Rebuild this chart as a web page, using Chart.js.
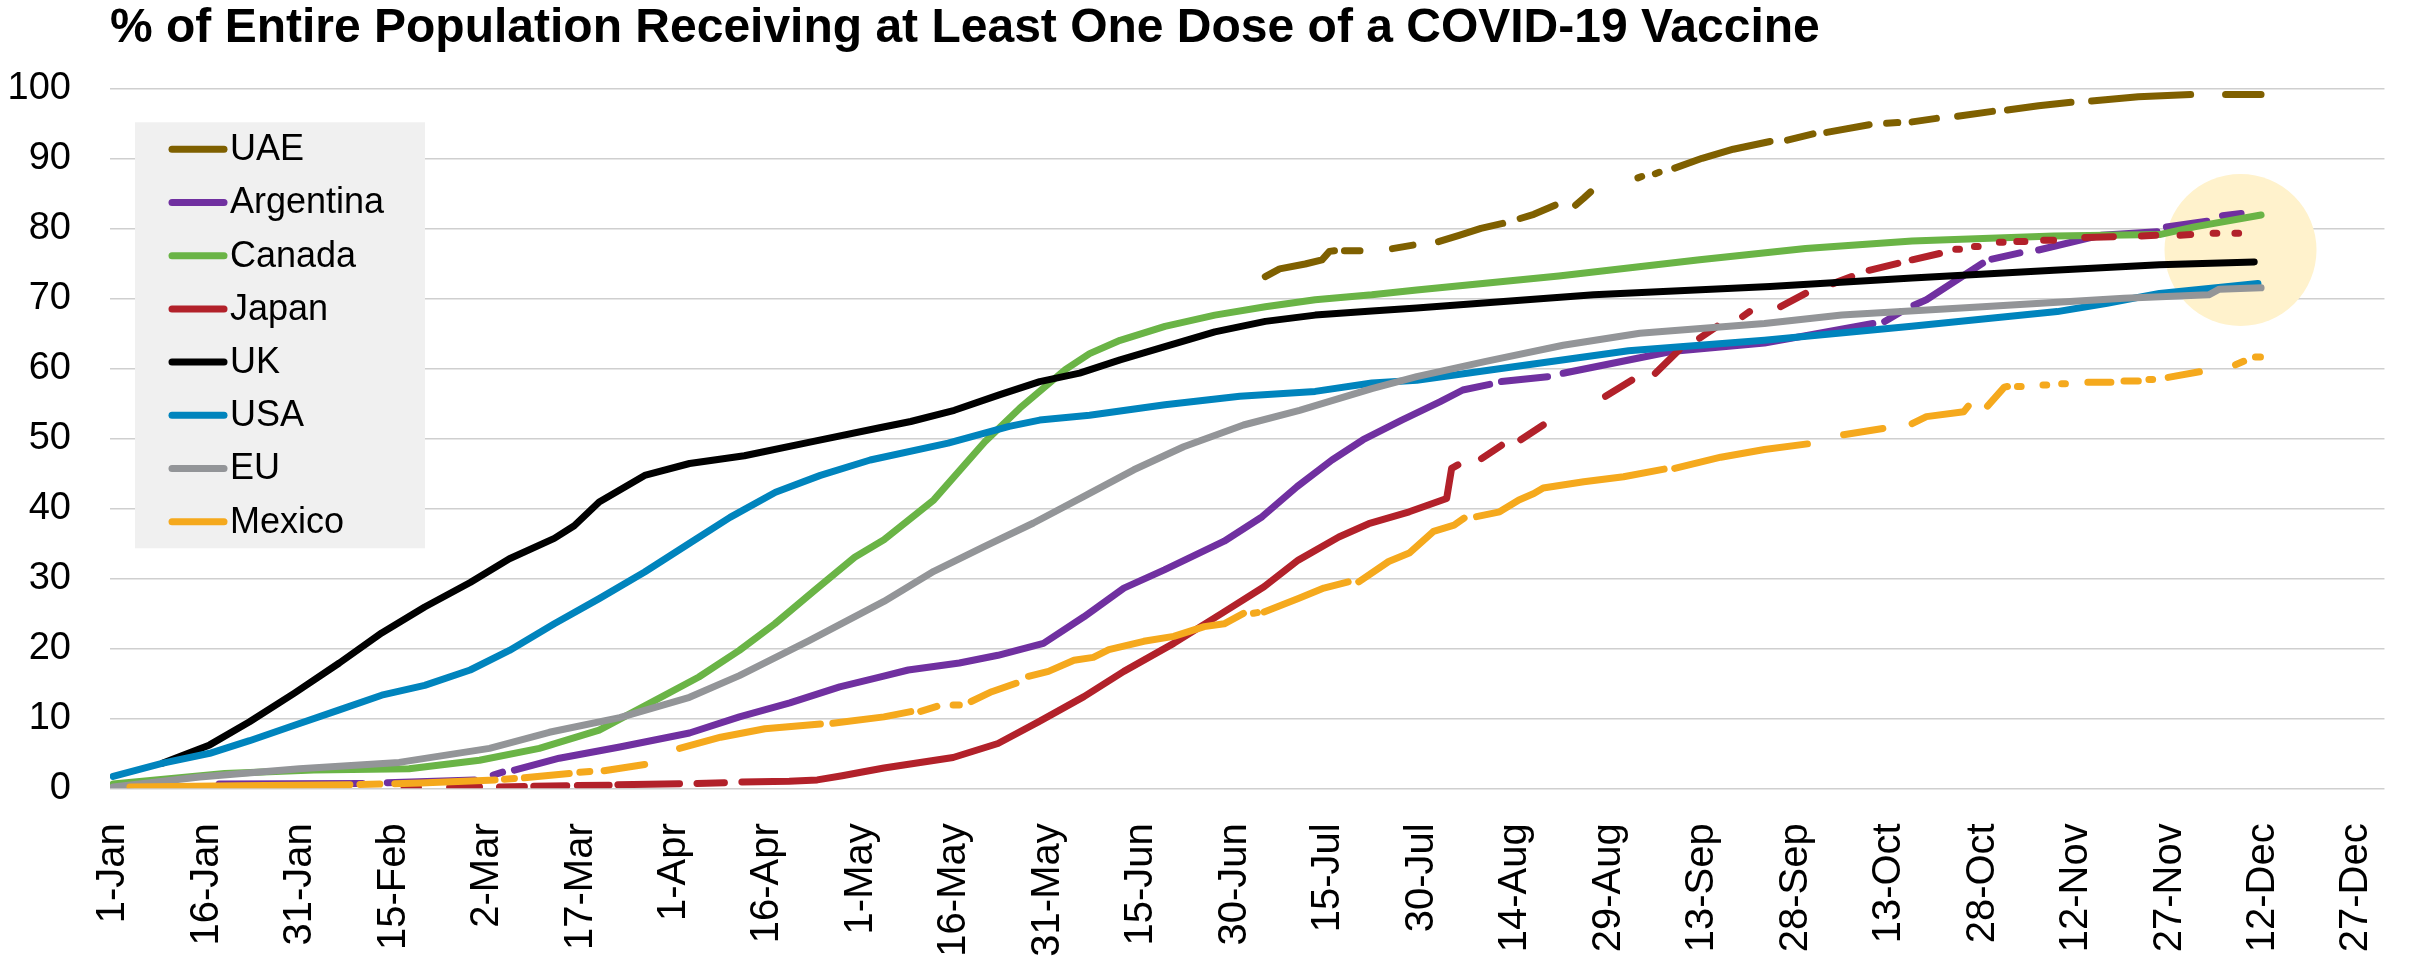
<!DOCTYPE html>
<html>
<head>
<meta charset="utf-8">
<title>% of Entire Population Receiving at Least One Dose of a COVID-19 Vaccine</title>
<script src="https://cdn.jsdelivr.net/npm/chart.js@4.4.1/dist/chart.umd.min.js"></script>
<style>
  html, body { margin: 0; padding: 0; background: #fff; }
  canvas { display: block; }
</style>
</head>
<body>
<canvas id="vaxChart" width="2432" height="959"></canvas>
<script>
// x = day of 2021 (0 = 1-Jan), y = % of population with at least one dose
// null = no value reported, the line breaks there
const uae = [[184.9,73.1],[187.2,74.2],[191.3,74.9],[194,75.5],[195.2,76.7],[196,76.8],null,
  [197.6,76.8],[200.1,76.8],null,[205.3,77.1],[208.6,77.6],null,
  [212.7,78.1],[216,79],[219.5,80],[223,80.7],null,[225.8,81.4],[228,82],[231.4,83.3],null,
  [234.7,83.3],[236,84.3],[237.1,85.2],null,[244.7,87.2],[245.3,87.4],null,[247.5,87.8],[248.1,88],null,
  [250.6,88.6],[255,90],[260,91.3],[265.9,92.4],null,[268.7,92.6],[272.8,93.5],null,
  [275,93.7],[281.8,94.8],null,[284.6,95],[286.4,95.1],null,[288.7,95.2],[292.6,95.7],null,
  [296,96],[301.6,96.7],null,[304,96.9],[309,97.5],[314.2,98],null,
  [317.5,98.2],[325,98.8],[333.4,99.1],null,[339,99.1],[344.7,99.1]];

const argentina = [[17,0.6],[40,0.7],null,[44,0.8],[58,1.2],null,[61,1.9],[62.5,2.3],null,
  [64.4,2.6],[71.6,4.3],[81.3,5.9],[92.5,7.9],[100.5,10.2],[108.6,12.2],[116.6,14.5],[123.5,16],
  [127.6,16.9],[135.8,17.9],[142,19],[149.3,20.7],[155.8,24.5],[162.2,28.6],[168.7,31.2],[178.3,35.3],
  [184.4,38.8],[190,43.1],[195.6,46.9],[200.6,49.8],[206.8,52.6],[212.9,55.2],[216.6,56.9],[220.9,57.7],null,
  [222.8,58.1],[230.2,58.8],null,[232.7,59.3],[250,62.4],[265,63.6],[282.4,66.4],null,
  [284.3,66.7],[287,68.1],null,[289,69],[291,69.8],[300,75],null,[301.5,75.6],[306,76.5],null,
  [309,76.9],[317,78.6],[319,79],[328,79.5],null,[329.5,80.2],[336,81],null,[338.5,81.8],[341.5,82.1]];

const canada = [[0,0.6],[17.9,2.1],[32.2,2.6],[47.5,2.8],[58.8,4],[68.4,5.7],[78,8.3],[86,12.1],
  [94,15.9],[100.5,19.7],[106.2,23.5],[112.6,28.3],[119,33],[123.7,35.5],[131.7,41.2],[139.9,49.5],
  [145.5,54.3],[152.8,59.8],[156.7,62.1],[161.6,64],[168.8,66],[176.8,67.6],[184.9,68.8],[192.9,69.8],
  [202,70.5],[209.2,71.2],[232,73.2],[254.6,75.5],[271.6,77.1],[288.7,78.2],[311.4,78.9],[328.4,79.1],
  [334,80.2],[344.7,81.9]];

const japan = [[46.7,0.1],[49,0.1],null,[54,0.15],[58.8,0.2],null,[62,0.2],[66,0.25],null,
  [67.5,0.3],[72.8,0.35],null,[74.5,0.4],[79.6,0.45],null,[81,0.5],[90.9,0.65],null,
  [93.7,0.7],[98.1,0.8],null,[100.9,0.9],[108.5,1],[113,1.2],[117,1.8],[120,2.3],[123.7,2.9],
  [134.8,4.4],[142,6.4],[148.5,9.5],[155.8,13.1],[162.2,16.7],[170.2,20.7],[178.3,25.2],[184.7,28.8],
  [190.2,32.6],[196.7,35.9],[201.5,37.8],[208,39.5],[214,41.4],[214.8,45.7],[215.8,46.2],null,
  [219.6,47.1],[222.8,49],null,[225.9,49.8],[229.5,51.9],null,[239.5,56],[243.7,58.3],null,
  [247.5,59.3],[251.3,62.6],null,[254.6,64.3],[257.4,66],null,[261.5,67.4],[262.6,68.1],null,
  [267.6,68.8],[271.6,70.7],null,[276,72.1],[279,73.1],null,[281.8,74],[286.4,75],null,
  [288.7,75.5],[293.1,76.4],null,[295.7,77],[296.3,77],null,[298.7,77.4],[299.3,77.4],null,
  [302.7,78],[303.3,78],null,[305.5,78.1],[306.8,78.1],null,[309.8,78.3],[311.4,78.3],null,
  [316.4,78.7],[321,78.8],null,[325.5,78.9],[327.8,79],null,[331.7,79],[333.4,79.1],null,
  [337,79.3],[337.6,79.3],null,[340.5,79.3],[341.1,79.3]];

const uk = [[8,3.6],[15.5,6.2],[21.9,9.5],[29.1,13.6],[36.3,17.9],[43.1,22.2],[50,25.9],[57.3,29.4],
  [63.6,32.8],[70.8,35.7],[74,37.5],[78,40.9],[85.3,44.7],[92.5,46.4],[101.3,47.5],[112.6,49.6],
  [123,51.5],[128,52.4],[135,54],[142.2,56.2],[148.7,58.1],[155.1,59.3],[161.6,61.2],[169.6,63.3],
  [176.8,65.2],[184.9,66.7],[192.9,67.6],[202,68.2],[209.2,68.6],[237.6,70.5],[265.9,71.7],
  [288.7,72.9],[311.4,74],[328.4,74.8],[343.6,75.2]];

const usa = [[0,1.7],[8,3.6],[15.5,5],[21.9,6.8],[29.1,9],[36.3,11.2],[43.1,13.3],[50,14.7],
  [57.3,16.9],[63.6,19.7],[70.8,23.5],[78,27.1],[85.3,30.9],[92.5,35],[99,38.7],[106.3,42.3],
  [113.5,44.7],[121.5,46.9],[134,49.3],[143.8,51.7],[148.7,52.6],[156.7,53.3],[168.8,54.8],[180.8,56],
  [192.9,56.7],[202,57.9],[209.2,58.3],[243.2,62.5],[265,64],[288.6,66],[312,68.1],[320,69.3],
  [328.4,70.7],[344.2,72.1]];

const eu = [[0,0.2],[13.9,1.6],[29.9,2.8],[45.9,3.7],[60.4,5.7],[70,8],[81.3,10.1],[92.5,13],
  [100.5,16.1],[111.7,21.1],[123.7,26.7],[131.7,31],[139.7,34.5],[147.7,37.9],[155.8,41.7],[163.8,45.5],
  [171.8,48.8],[181.4,51.9],[190.4,54],[202,57.1],[209.2,58.8],[220.3,61],[232.7,63.3],[245,65],
  [265,66.4],[277.4,67.6],[300,68.8],[322.7,70],[336.3,70.5],[338,71.3],[344.7,71.5]];

const mexico = [[2.7,0.2],[20,0.35],[38,0.5],null,[39.6,0.55],[42.8,0.6],null,[45.2,0.65],[49.3,0.75],
  [61.3,1.2],null,[62.8,1.3],[64.4,1.4],null,[66,1.5],[73.2,2.1],null,[74.9,2.3],[76.5,2.4],null,
  [78.8,2.5],[85.3,3.4],null,[90.9,5.7],[97.5,7.3],[104.6,8.5],[113.5,9.2],null,[115.5,9.3],
  [123.7,10.2],[128,10.95],null,[129.6,11],[132.2,11.7],null,[134.8,11.9],[135.8,11.9],null,
  [137.7,12.4],[141,13.8],[144.9,15],null,[146.9,16],[150.1,16.7],[154.2,18.3],[157.3,18.7],
  [159.8,19.8],[165.4,21],[170.2,21.7],[175.1,23.1],[178.3,23.5],[181.4,25],null,[183,25],[183.6,25.1],null,
  [184.7,25.2],[190.2,27.1],[194.3,28.6],[198.2,29.5],null,[199.9,29.5],[204.7,32.4],[208,33.6],
  [211.9,36.7],[215.2,37.6],[216.8,38.6],null,[218.8,38.8],[222.5,39.5],[225.6,41.2],[228,42.1],
  [229.5,42.9],[236,43.8],[242.4,44.5],[248.9,45.6],null,[250.6,45.7],[258,47.3],[265,48.4],[271.9,49.2],null,
  [277.7,50.5],[284,51.4],null,[288.7,52.1],[291,53.1],[297,53.8],[297.7,54.6],null,
  [300.8,54.6],[303.5,57.3],[304,57.4],null,[305.6,57.4],[306.2,57.4],null,[309.7,57.6],[310.3,57.6],null,
  [312.7,57.8],[313.3,57.8],null,[316.9,58],[320.6,58],null,[322.7,58.2],[325,58.2],null,
  [326.7,58.4],[327.3,58.4],null,[329.8,58.7],[334.8,59.5],null,[340.6,60.5],[341.9,61],null,
  [343.8,61.6],[344.6,61.6]];

const countries = ["UAE", "Argentina", "Canada", "Japan", "UK", "USA", "EU", "Mexico"];
const seriesList = [uae, argentina, canada, japan, uk, usa, eu, mexico];
const colors = ["#7f6000", "#7030a0", "#6ab446", "#b2212a", "#000000", "#0084bd", "#939598", "#f5a91d"];

const dayLabels = ["1-Jan", "16-Jan", "31-Jan", "15-Feb", "2-Mar", "17-Mar", "1-Apr", "16-Apr",
  "1-May", "16-May", "31-May", "15-Jun", "30-Jun", "15-Jul", "30-Jul", "14-Aug", "29-Aug",
  "13-Sep", "28-Sep", "13-Oct", "28-Oct", "12-Nov", "27-Nov", "12-Dec", "27-Dec"];
const labelStep = 15;
const yTicksMax = 100;
const yTicksStep = 10;

// highlighted latest readings
const highlightDay = 341.4;
const highlightValue = 76.9;

const FONT = "'Liberation Sans', Arial, Helvetica, sans-serif";
const LINE_W = 7;

function toPoints(rows) {
  let lastX = 0;
  return rows.map(r => {
    if (r === null) return { x: lastX + 0.01, y: null };
    lastX = r[0];
    return { x: r[0], y: r[1] };
  });
}

const highlightPlugin = {
  id: "highlight",
  beforeDatasetsDraw(chart) {
    const { ctx, scales } = chart;
    ctx.save();
    ctx.fillStyle = "#fff2cc";
    ctx.beginPath();
    ctx.arc(scales.x.getPixelForValue(highlightDay), scales.y.getPixelForValue(highlightValue), 76, 0, Math.PI * 2);
    ctx.fill();
    ctx.restore();
  }
};

// legend box sits inside the plot, over the grid lines
const boxLegend = {
  id: "boxLegend",
  afterDatasetsDraw(chart) {
    const { ctx, chartArea } = chart;
    const left = chartArea.left + 25;
    const top = chartArea.top + 34;
    ctx.save();
    ctx.fillStyle = "#f0f0f0";
    ctx.fillRect(left, top, 290, 426);
    ctx.font = "36px " + FONT;
    ctx.textBaseline = "middle";
    ctx.textAlign = "left";
    ctx.lineCap = "round";
    chart.data.datasets.forEach((ds, i) => {
      const y = top + 27 + i * 53.2;
      ctx.strokeStyle = ds.borderColor;
      ctx.lineWidth = LINE_W;
      ctx.beginPath();
      ctx.moveTo(left + 37, y);
      ctx.lineTo(left + 89, y);
      ctx.stroke();
      ctx.fillStyle = "#000";
      ctx.fillText(ds.label, left + 95, y + 1);
    });
    ctx.restore();
  }
};

new Chart(document.getElementById("vaxChart"), {
  type: "line",
  data: {
    datasets: countries.map((name, i) => ({
      label: name,
      data: toPoints(seriesList[i]),
      borderColor: colors[i],
      backgroundColor: colors[i],
      borderWidth: LINE_W,
      borderCapStyle: "round",
      borderJoinStyle: "round",
      pointRadius: 0,
      tension: 0,
      spanGaps: false,
      order: countries.length - i
    }))
  },
  options: {
    responsive: false,
    animation: false,
    events: [],
    layout: { padding: { left: 0, right: 2, top: 0, bottom: 0 } },
    plugins: {
      legend: { display: false },
      tooltip: { enabled: false },
      title: {
        display: true,
        text: "% of Entire Population Receiving at Least One Dose of a COVID-19 Vaccine",
        align: "start",
        fullSize: false,
        color: "#000",
        font: { family: FONT, size: 48, weight: "bold", lineHeight: 1.2 },
        padding: { top: 0, bottom: 30.7 }
      }
    },
    scales: {
      x: {
        type: "linear",
        min: -0.5,
        max: 364.5,
        grid: { display: false },
        border: { display: false },
        afterBuildTicks(scale) {
          scale.ticks = dayLabels.map((_, i) => ({ value: i * labelStep }));
        },
        afterFit(scale) { scale.height = 170.7; },
        ticks: {
          autoSkip: false,
          maxRotation: 90,
          minRotation: 90,
          padding: 27,
          color: "#000",
          font: { family: FONT, size: 40 },
          callback: (value, index) => dayLabels[index]
        }
      },
      y: {
        min: 0,
        max: yTicksMax,
        grid: { color: "#cfcfcf", lineWidth: 1.5, drawTicks: false },
        border: { display: false },
        afterFit(scale) { scale.width = 110; },
        ticks: {
          stepSize: yTicksStep,
          padding: 39,
          color: "#000",
          font: { family: FONT, size: 38 }
        }
      }
    }
  },
  plugins: [highlightPlugin, boxLegend]
});
</script>
</body>
</html>
